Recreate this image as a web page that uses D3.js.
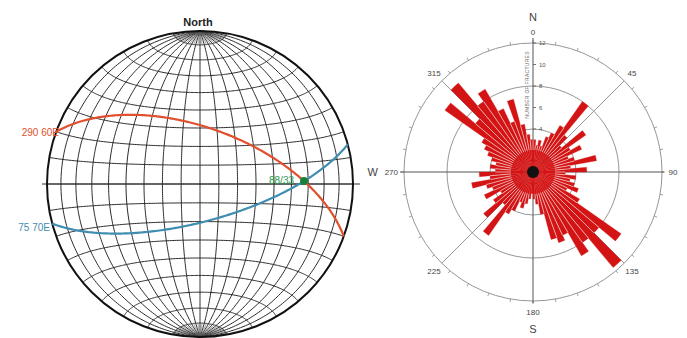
<!DOCTYPE html>
<html>
<head>
<meta charset="utf-8">
<script src="https://cdn.jsdelivr.net/npm/d3@7"></script>
<style>
  html, body { margin: 0; padding: 0; background: #fff; }
  svg { display: block; font-family: "Liberation Sans", Arial, sans-serif; }
</style>
</head>
<body>
<svg id="chart" width="687" height="338"></svg>
<script>
// ---- Stereonet data: planes as strike / dip (right-hand rule) ----
const planeNames  = ["290 60E", "75 70E"];
const planeStrike = [290, 75];
const planeDip    = [60, 70];
const planeColors = ["#e0502e", "#3f8db0"];

// ---- Rose diagram data: fracture counts per 5° bin (bin start azimuth) ----
const roseBinWidth = 5;
const roseBinStart = d3.range(0, 360, roseBinWidth);
const roseCounts = [
  3, 2.5, 3, 2.5, 3.5, 4, 5, 8, 4.5,          // 0-45
  3.5, 6, 4, 5, 3.5, 4, 6, 3.5, 5,            // 45-90
  3, 4, 3.5, 4, 4.5, 3.5, 5, 10, 8,           // 90-135
  11.6, 8, 9, 6.5, 7, 6.5, 4, 3, 2.5,         // 135-180
  2, 2.5, 3, 3.5, 3, 4, 4.5, 7.2, 4,          // 180-225
  6, 4.5, 3.5, 5, 4, 4.5, 5.8, 4, 5,          // 225-270
  3.5, 4, 3.5, 4, 4.5, 5, 5.5, 10, 7,         // 270-315
  10.8, 8, 8.9, 6.5, 5, 7, 4.5, 3.5, 3        // 315-360
];
const roseRingValues = [4, 8, 12];
const roseAxisTicks  = [4, 6, 8, 10, 12];
const roseDirLabels  = [
  {az: 0, text: "0"}, {az: 45, text: "45"}, {az: 90, text: "90"},
  {az: 135, text: "135"}, {az: 180, text: "180"}, {az: 225, text: "225"},
  {az: 270, text: "270"}, {az: 315, text: "315"}
];

const svg = d3.select("#chart");
const rad = Math.PI / 180;

// =============== Equal-area (Schmidt) net ===============
const net = { cx: 200, cy: 184, R: 153 };
const proj = d3.geoAzimuthalEqualArea()
  .scale(net.R / Math.SQRT2)
  .translate([net.cx, net.cy])
  .rotate([0, 0])
  .clipAngle(90.0001)
  .precision(0.1);
const geoPath = d3.geoPath(proj);

// graticule: meridians (great circles) and parallels (small circles) every 10°
const gratLines = [];
for (let lon = -80; lon <= 80; lon += 10) {
  gratLines.push({type: "LineString", coordinates: d3.range(-90, 90.01, 1).map(lat => [lon, lat])});
}
for (let lat = -80; lat <= 80; lat += 10) {
  gratLines.push({type: "LineString", coordinates: d3.range(-90, 90.01, 1).map(lon => [lon, lat])});
}
// intermediate meridians inside the polar caps
const capLines = [];
for (let lon = -85; lon <= 85; lon += 10) {
  capLines.push({type: "LineString", coordinates: d3.range(80, 90.01, 0.5).map(lat => [lon, lat])});
  capLines.push({type: "LineString", coordinates: d3.range(-90, -79.99, 0.5).map(lat => [lon, lat])});
}

const gNet = svg.append("g");
gNet.selectAll("path.grat").data(gratLines).join("path")
  .attr("class", "grat")
  .attr("d", geoPath)
  .attr("fill", "none")
  .attr("stroke", "#2a2a2a")
  .attr("stroke-width", 1);
gNet.selectAll("path.cap").data(capLines).join("path")
  .attr("class", "cap")
  .attr("d", geoPath)
  .attr("fill", "none")
  .attr("stroke", "#555")
  .attr("stroke-width", 0.6);

// horizontal E-W reference line
gNet.append("line")
  .attr("x1", 42).attr("x2", 360)
  .attr("y1", net.cy).attr("y2", net.cy)
  .attr("stroke", "#333").attr("stroke-width", 1);

// primitive circle
gNet.append("circle")
  .attr("cx", net.cx).attr("cy", net.cy).attr("r", net.R)
  .attr("fill", "none").attr("stroke", "#111").attr("stroke-width", 2);

// vector helpers: [north, east, down]
function lineVec(trend, plunge) {
  return [Math.cos(plunge * rad) * Math.cos(trend * rad),
          Math.cos(plunge * rad) * Math.sin(trend * rad),
          Math.sin(plunge * rad)];
}
function toLonLat(v) {
  const n = v[0], e = v[1], d = v[2];
  return [Math.atan2(e, d) / rad, Math.asin(Math.max(-1, Math.min(1, n))) / rad];
}
function cross(a, b) {
  return [a[1]*b[2]-a[2]*b[1], a[2]*b[0]-a[0]*b[2], a[0]*b[1]-a[1]*b[0]];
}

const planes = planeStrike.map((s, i) => ({
  name: planeNames[i], strike: s, dip: planeDip[i], color: planeColors[i]
}));

planes.forEach(p => {
  const sv = lineVec(p.strike, 0);
  const dv = lineVec(p.strike + 90, p.dip);
  const coords = d3.range(0, 180.01, 1).map(t => {
    const v = [0, 1, 2].map(k => Math.cos(t * rad) * sv[k] + Math.sin(t * rad) * dv[k]);
    return toLonLat(v);
  });
  p.geom = {type: "LineString", coordinates: coords};
  p.pole = lineVec(p.strike + 270, 90 - p.dip);
});

gNet.selectAll("path.plane").data(planes).join("path")
  .attr("class", "plane")
  .attr("d", d => geoPath(d.geom))
  .attr("fill", "none")
  .attr("stroke", d => d.color)
  .attr("stroke-width", 2.2);

// plane labels at their western primitive ends
gNet.append("text").attr("x", 59).attr("y", 135.5)
  .attr("text-anchor", "end").attr("font-size", 10).attr("fill", planes[0].color)
  .text(planes[0].name);
gNet.append("text").attr("x", 50).attr("y", 231)
  .attr("text-anchor", "end").attr("font-size", 10).attr("fill", planes[1].color)
  .text(planes[1].name);

// intersection line of the two planes
let iv = cross(planes[0].pole, planes[1].pole);
const norm = Math.hypot(...iv);
iv = iv.map(x => x / norm);
if (iv[2] < 0) iv = iv.map(x => -x);
const iTrend = (Math.atan2(iv[1], iv[0]) / rad + 360) % 360;
const iPlunge = Math.asin(iv[2]) / rad;
const ip = proj(toLonLat(iv));
gNet.append("circle").attr("cx", ip[0]).attr("cy", ip[1]).attr("r", 4)
  .attr("fill", "#17803a");
gNet.append("text").attr("x", ip[0] - 10).attr("y", ip[1] + 3)
  .attr("text-anchor", "end").attr("font-size", 10).attr("fill", "#2c9a52")
  .text(`${Math.round(iTrend)}/${Math.round(iPlunge)}`);

gNet.append("text").attr("x", net.cx - 2).attr("y", 26)
  .attr("text-anchor", "middle").attr("font-size", 11).attr("font-weight", "bold")
  .attr("fill", "#222").text("North");

// =============== Rose diagram ===============
const rose = { cx: 533, cy: 172 };
const rScale = d3.scaleLinear().domain([0, 12]).range([0, 129]);
const gRose = svg.append("g").attr("transform", `translate(${rose.cx},${rose.cy})`);
const gridCol = "#8a8a8a";

// rings
gRose.selectAll("circle.ring").data(roseRingValues).join("circle")
  .attr("class", "ring").attr("r", d => rScale(d))
  .attr("fill", "none").attr("stroke", gridCol).attr("stroke-width", 0.9);

// ticks around the outer ring
gRose.selectAll("line.otick").data(d3.range(0, 360, 10)).join("line")
  .attr("class", "otick")
  .attr("x1", d => Math.sin(d * rad) * rScale(12))
  .attr("y1", d => -Math.cos(d * rad) * rScale(12))
  .attr("x2", d => Math.sin(d * rad) * (rScale(12) + 3))
  .attr("y2", d => -Math.cos(d * rad) * (rScale(12) + 3))
  .attr("stroke", gridCol).attr("stroke-width", 0.8);

// diagonal spokes
gRose.selectAll("line.spoke").data([45, 135, 225, 315]).join("line")
  .attr("class", "spoke")
  .attr("x1", 0).attr("y1", 0)
  .attr("x2", d => Math.sin(d * rad) * rScale(12))
  .attr("y2", d => -Math.cos(d * rad) * rScale(12))
  .attr("stroke", gridCol).attr("stroke-width", 0.9);

// main N-S / E-W axes
gRose.append("line").attr("x1", 0).attr("x2", 0).attr("y1", -134).attr("y2", 131)
  .attr("stroke", "#555").attr("stroke-width", 1);
gRose.append("line").attr("x1", -133).attr("x2", 131).attr("y1", 0).attr("y2", 0)
  .attr("stroke", "#555").attr("stroke-width", 1);

// petals
const bins = roseBinStart.map((a, i) => ({a, v: roseCounts[i]}));
const arc = d3.arc().innerRadius(0);
gRose.selectAll("path.petal").data(bins).join("path")
  .attr("class", "petal")
  .attr("d", d => arc({outerRadius: rScale(d.v), startAngle: d.a * rad,
                       endAngle: (d.a + roseBinWidth) * rad}))
  .attr("fill", "#d41414")
  .attr("stroke", "#d41414").attr("stroke-width", 0.3);

// thin white gaps between neighbouring petals (kept clear of the centre)
const seps = bins.map((d, i) => {
  const prev = bins[(i - 1 + bins.length) % bins.length];
  return {a: d.a, r: rScale(Math.min(d.v, prev.v))};
}).filter(s => s.r > 22);
gRose.selectAll("line.sep").data(seps).join("line")
  .attr("class", "sep")
  .attr("x1", d => Math.sin(d.a * rad) * 22)
  .attr("y1", d => -Math.cos(d.a * rad) * 22)
  .attr("x2", d => Math.sin(d.a * rad) * d.r)
  .attr("y2", d => -Math.cos(d.a * rad) * d.r)
  .attr("stroke", "#fff").attr("stroke-width", 0.7).attr("stroke-opacity", 0.85);

gRose.append("circle").attr("r", 6).attr("fill", "#111");

// radial scale on the north axis
gRose.selectAll("line.atick").data(roseAxisTicks).join("line")
  .attr("class", "atick")
  .attr("x1", 0).attr("x2", 3)
  .attr("y1", d => -rScale(d)).attr("y2", d => -rScale(d))
  .attr("stroke", "#555").attr("stroke-width", 0.8);
gRose.selectAll("text.atick").data(roseAxisTicks).join("text")
  .attr("class", "atick")
  .attr("x", 6).attr("y", d => -rScale(d) + 2)
  .attr("font-size", 6).attr("fill", "#555")
  .text(d => d);
gRose.append("text")
  .attr("transform", `translate(-4,${-rScale(8.1)}) rotate(-90)`)
  .attr("text-anchor", "middle").attr("font-size", 5).attr("fill", "#666")
  .attr("letter-spacing", 0.3)
  .text("NUMBER OF FRACTURES");

// azimuth labels
const labelR = 140;
gRose.selectAll("text.az").data(roseDirLabels).join("text")
  .attr("class", "az")
  .attr("x", d => d.az === 270 ? -labelR + 5 : Math.sin(d.az * rad) * labelR)
  .attr("y", d => -Math.cos(d.az * rad) * labelR + 3)
  .attr("text-anchor", d => d.az === 270 ? "end" : "middle")
  .attr("font-size", 8).attr("fill", "#444")
  .text(d => d.text);
gRose.append("text").attr("x", 0).attr("y", -151).attr("text-anchor", "middle")
  .attr("font-size", 11).attr("fill", "#444").text("N");
gRose.append("text").attr("x", 0).attr("y", 161).attr("text-anchor", "middle")
  .attr("font-size", 11).attr("fill", "#444").text("S");
gRose.append("text").attr("x", -155).attr("y", 4).attr("text-anchor", "end")
  .attr("font-size", 11).attr("fill", "#444").text("W");
</script>
</body>
</html>
